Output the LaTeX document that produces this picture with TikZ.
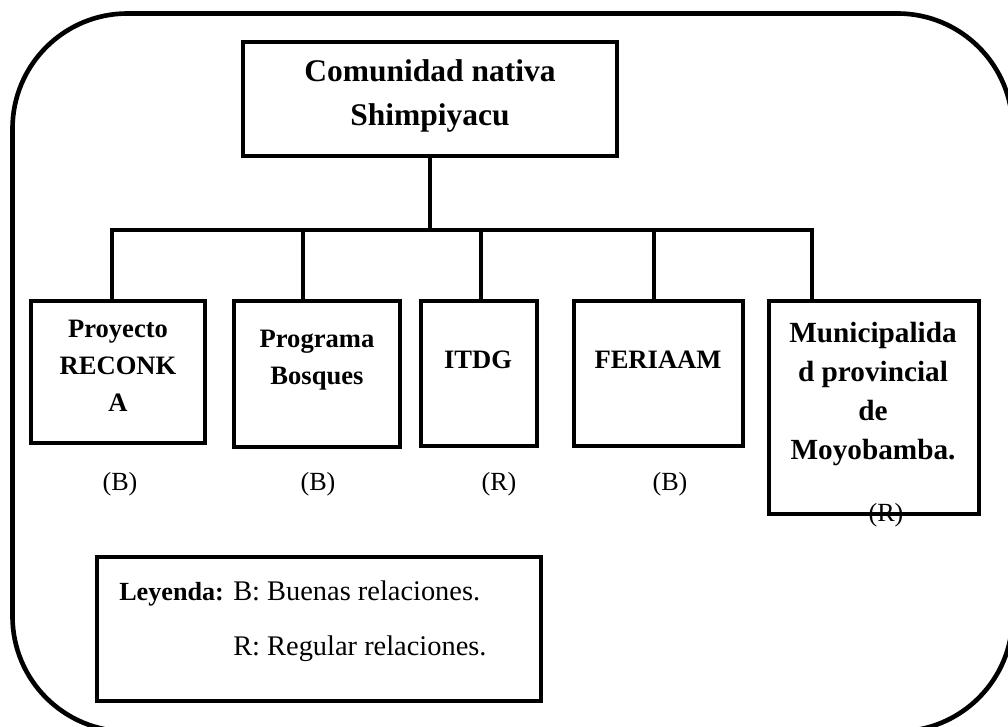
\documentclass[tikz,border=0pt]{standalone}
\usepackage{fontspec}
\setmainfont{Liberation Serif}
\begin{document}
\begin{tikzpicture}[x=0.025cm, y=-0.025cm,
    caja/.style={draw, rectangle, line width=2.9pt, inner sep=0pt},
    texto/.style={font=\bfseries\fontsize{18.9}{26.3}\selectfont, align=center, inner sep=0pt},
    rel/.style={font=\fontsize{18.6}{22}\selectfont, inner sep=0pt},
    linea/.style={line width=2.9pt}]
    % Define the frame and the bar height
    \def\ancho{1008}
    \def\alto{727}
    \def\barra{230}

    \useasboundingbox (0,0) rectangle (\ancho,\alto);
    \clip (0,0) rectangle (\ancho,\alto);

    % Draw the rounded frame
    \draw[line width=3.3pt, rounded corners=2.875cm] (12.5,13.5) rectangle (1012.5,731.5);

    % Draw the top box
    \node[caja, minimum width=9.35cm, minimum height=2.85cm] (raiz) at (430,99) {};
    \node[texto, font=\bfseries\fontsize{22.4}{31.3}\selectfont] (traiz) at (430,96) {Comunidad nativa\\Shimpiyacu};

    % Draw the boxes of the institutions
    \foreach \n/\x/\y/\w/\h in {1/118/372/4.35/3.55, 2/317/374/4.15/3.65, 3/479/373.5/2.9/3.625,
                                4/658.5/373.5/4.225/3.625, 5/874/407.5/5.25/5.325} {
        \node[caja, minimum width=\w cm, minimum height=\h cm] (c\n) at (\x,\y) {};
    }

    % Texts inside the boxes
    \node[texto] (t1) at (118,366) {Proyecto\\RECONK\\A};
    \node[texto] (t2) at (317,360) {Programa\\Bosques};
    \node[texto] (t3) at (478,360) {ITDG};
    \node[texto] (t4) at (658,360) {FERIAAM};
    \node[texto, font=\bfseries\fontsize{20.8}{27.8}\selectfont] (t5) at (873,394) {Municipalida\\d provincial\\de\\Moyobamba.};

    % Draw the connectors
    \foreach \n/\xd in {1/112, 2/303, 3/481, 4/654, 5/812} {
        \coordinate (d\n) at (\xd,\barra);
    }
    \draw[linea] (raiz.south) -- (raiz.south |- d1);
    \draw[linea] (d1 |- c1.north) -- (d1) -- (d5) -- (d5 |- c5.north);
    \foreach \n in {2,3,4} {
        \draw[linea] (d\n) -- (d\n |- c\n.north);
    }

    % Labels for the relations
    \node[rel] (r1) at (120,484) {(B)};
    \node[rel] (r2) at (318,484) {(B)};
    \node[rel] (r3) at (499,484) {(R)};
    \node[rel] (r4) at (670,484) {(B)};
    \node[rel] (r5) at (886,515) {(R)};

    % Draw the legend
    \node[caja, minimum width=11.1cm, minimum height=3.6cm] (leyenda) at (319,629) {};
    \node[rel, anchor=base west, font=\bfseries\fontsize{18.6}{22}\selectfont] (ley) at (119,601) {Leyenda:};
    \node[rel, anchor=base west, font=\fontsize{20.2}{24}\selectfont] (leyB) at (233,601) {B: Buenas relaciones.};
    \node[rel, anchor=base west, font=\fontsize{20.2}{24}\selectfont] (leyR) at (233,656) {R: Regular relaciones.};
\end{tikzpicture}
\end{document}
